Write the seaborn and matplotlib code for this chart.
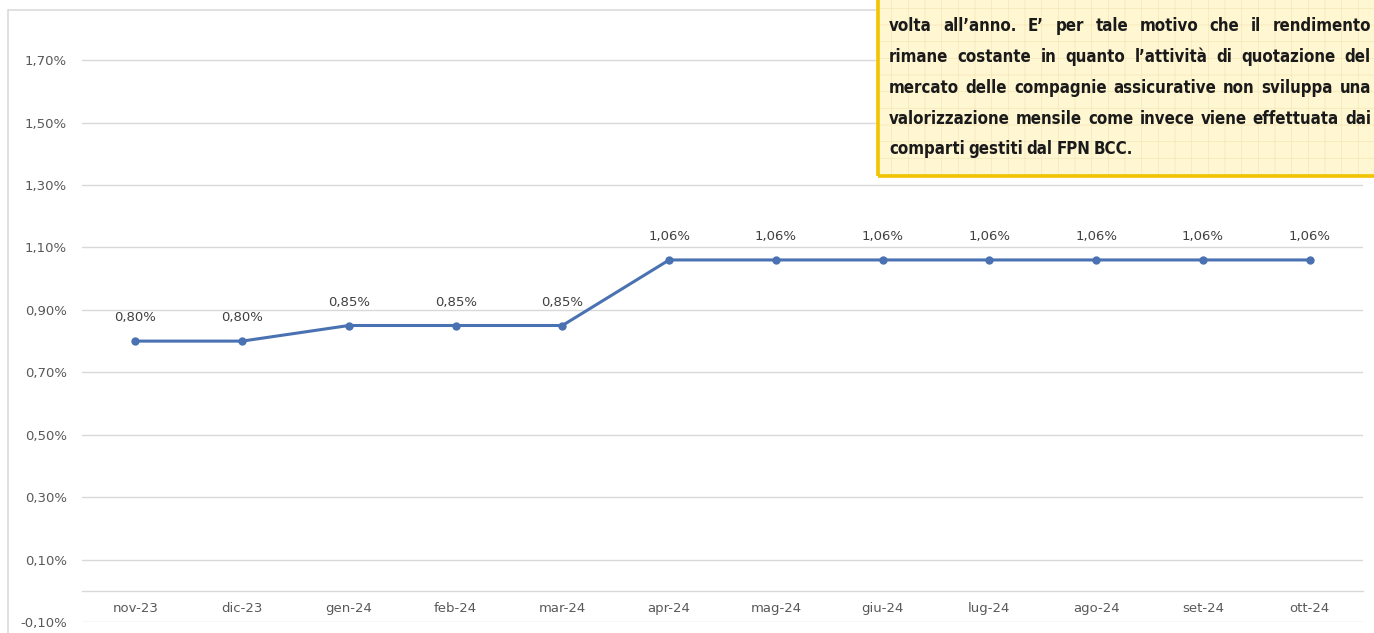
import matplotlib
matplotlib.use("Agg")
import matplotlib.pyplot as plt
import seaborn as sns
import pandas as pd
import numpy as np
from matplotlib import font_manager
from matplotlib.font_manager import FontProperties
from matplotlib.patches import Rectangle
from matplotlib.ticker import FuncFormatter, FixedLocator

months = ["nov-23", "dic-23", "gen-24", "feb-24", "mar-24", "apr-24",
          "mag-24", "giu-24", "lug-24", "ago-24", "set-24", "ott-24"]
rendimento = [0.80, 0.80, 0.85, 0.85, 0.85, 1.06, 1.06, 1.06, 1.06, 1.06, 1.06, 1.06]
y_ticks = [-0.10, 0.10, 0.30, 0.50, 0.70, 0.90, 1.10, 1.30, 1.50, 1.70]
note_lines = [
    "volta all\u2019anno. E\u2019 per tale motivo che il rendimento",
    "rimane costante in quanto l\u2019attivit\u00e0 di quotazione del",
    "mercato delle compagnie assicurative non sviluppa una",
    "valorizzazione mensile come invece viene effettuata dai",
    "comparti gestiti dal FPN BCC.",
]

df = pd.DataFrame({"mese": months, "rend": rendimento})

sns.set_theme(style="white")
plt.rcParams["font.family"] = ["DejaVu Sans"]
plt.rcParams["hatch.linewidth"] = 0.5

fig = plt.figure(figsize=(13.74, 6.33), dpi=100)
fig.patch.set_facecolor("white")
# outer chart border
fig.patches.append(Rectangle((8 / 1374, -0.1), 1.2, (633 - 10) / 633 + 0.1,
                             transform=fig.transFigure, fill=False,
                             edgecolor="#DADADA", linewidth=1.2, zorder=0))

ax = fig.add_axes([82 / 1374, (633 - 622) / 633, (1363 - 82) / 1374, (622 - 29) / 633])
ax.set_facecolor("none")

line_color = "#4A72B2"
sns.lineplot(data=df, x="mese", y="rend", ax=ax, color=line_color, linewidth=2.2,
             marker="o", markersize=6, markeredgewidth=0, sort=False)

ax.set_xlim(-0.5, len(months) - 0.5)
ax.set_ylim(-0.10, 1.80)
ax.yaxis.set_major_locator(FixedLocator(y_ticks))
ax.yaxis.set_major_formatter(FuncFormatter(lambda v, p: f"{v:.2f}%".replace(".", ",")))
ax.grid(axis="y", color="#D9D9D9", linewidth=1)
ax.grid(axis="x", visible=False)
for s in ["top", "right", "left"]:
    ax.spines[s].set_visible(False)
ax.spines["bottom"].set_position(("data", 0))
ax.spines["bottom"].set_color("#D9D9D9")
ax.spines["bottom"].set_linewidth(1)

ax.tick_params(axis="y", length=0, pad=11, labelsize=9.5, labelcolor="#595959")
ax.tick_params(axis="x", which="major", length=0, pad=8, labelsize=9.5, labelcolor="#595959")
ax.set_xticks(range(len(months)))
ax.set_xticklabels(months)
ax.xaxis.set_minor_locator(FixedLocator(np.arange(-0.5, len(months), 1.0)))
ax.tick_params(axis="x", which="minor", length=4, color="#D9D9D9", direction="out")
ax.set_xlabel("")
ax.set_ylabel("")

for m, v in zip(months, rendimento):
    ax.annotate(f"{v:.2f}%".replace(".", ","), xy=(m, v), xytext=(0, 12),
                textcoords="offset points", ha="center", va="bottom",
                fontsize=9.5, color="#404040")

# note box
x0, y0 = 878 / 1374, (633 - 176) / 633
box_fill = Rectangle((x0, y0), 1.0, 1.0, transform=fig.transFigure,
                     facecolor="#FFF6D2", edgecolor="#F4E6B8", hatch="+",
                     linewidth=0, zorder=5)
fig.patches.append(box_fill)
box_border = Rectangle((x0, y0), 1.0, 1.0, transform=fig.transFigure,
                       fill=False, edgecolor="#F2C300", linewidth=2.6, zorder=6)
fig.patches.append(box_border)

# choose the narrowest bold font available
cand = None
for f in font_manager.fontManager.ttflist:
    nm = f.name.lower()
    st = str(f.stretch).lower()
    wt = f.weight if isinstance(f.weight, int) else 400
    if ("condensed" in nm or "narrow" in nm or "condensed" in st) and (wt >= 600 or "bold" in str(f.weight).lower()):
        cand = f.fname
        break
if cand is not None:
    note_fp = FontProperties(fname=cand)
else:
    note_fp = FontProperties(family=["Roboto", "DejaVu Sans"], weight="bold")

fig.canvas.draw()
renderer = fig.canvas.get_renderer()
left_px, right_px = 889, 1371

# fit font size so the longest line fits the box width
fs = 17.0
maxw = max(fig.text(0, 0, l, fontproperties=note_fp, fontsize=fs).get_window_extent(renderer).width
           for l in note_lines)
for t in list(fig.texts):
    t.remove()
fs = min(fs, fs * (right_px - left_px) / maxw * 0.985)

baselines = [31, 62, 93, 124, 154]
for i, (line, yb) in enumerate(zip(note_lines, baselines)):
    words = line.split(" ")
    texts = []
    for w in words:
        t = fig.text(0, 1 - yb / 633, w, fontproperties=note_fp, fontsize=fs,
                     color="#1A1A1A", va="baseline", ha="left", zorder=7)
        texts.append(t)
    widths = [t.get_window_extent(renderer).width for t in texts]
    if i < len(note_lines) - 1 and len(words) > 1:
        gap = (right_px - left_px - sum(widths)) / (len(words) - 1)
    else:
        gap = fs * 0.3
    x = left_px
    for t, w in zip(texts, widths):
        t.set_x(x / 1374)
        x += w + gap

fig.savefig("out.png", dpi=100)
